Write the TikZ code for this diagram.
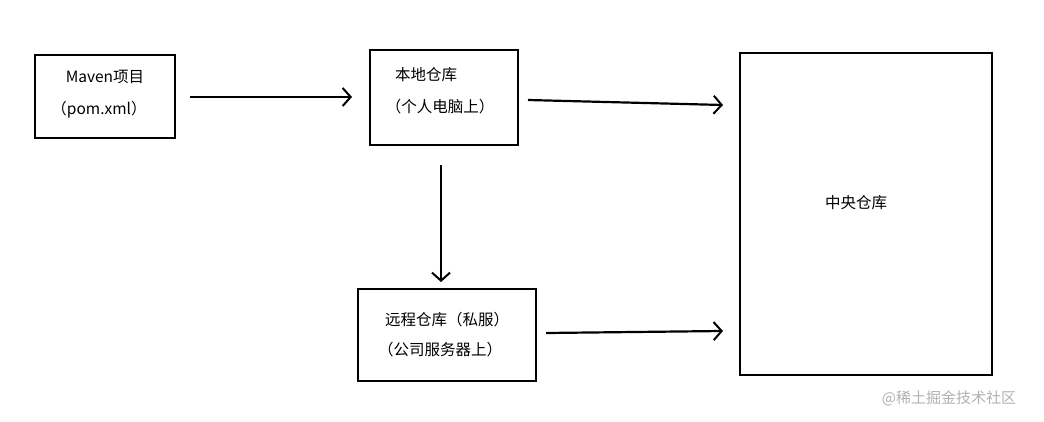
\documentclass[tikz,border=0pt]{standalone}
\usepackage{fontspec}
\setmainfont{Noto Sans CJK SC}
\usetikzlibrary{arrows.meta}
\begin{document}
\begin{tikzpicture}[x=1pt,y=-1pt,
  box/.style={draw,line width=2pt},
  txt/.style={font=\fontsize{15.5pt}{18pt}\selectfont,inner sep=0pt},
  arr/.style={line width=2.2pt,-{Straight Barb[length=8pt,width=18pt,line width=2pt]}}]
\useasboundingbox[fill=white] (0,0) rectangle (1044,422);
\node[box,minimum width=140pt,minimum height=83pt] (b1) at (105,96.5) {};
\node[box,minimum width=148pt,minimum height=95pt] (b2) at (444,97.5) {};
\node[box,minimum width=252pt,minimum height=322pt] (b3) at (866,214) {};
\node[box,minimum width=178pt,minimum height=92pt] (b4) at (447,335) {};
\node[txt] (t1a) at (105,77) {Maven项目};
\node[txt] (t1b) at (99,110) {（pom.xml）};
\node[txt] (t2a) at (426,75) {本地仓库};
\node[txt] (t2b) at (440,107) {（个人电脑上）};
\node[txt] (t3) at (856,203) {中央仓库};
\node[txt] (t4a) at (447,320) {远程仓库（私服）};
\node[txt] (t4b) at (440,350) {（公司服务器上）};
\node[txt,text=gray!60,font=\fontsize{15pt}{18pt}\selectfont] (wm) at (949,398) {@稀土掘金技术社区};
\coordinate (a1s) at (190,97); \coordinate (a1e) at (352,97);
\coordinate (a2s) at (528,100); \coordinate (a2e) at (723,105);
\coordinate (a3s) at (441,165); \coordinate (a3e) at (441,282);
\coordinate (a4s) at (546,333); \coordinate (a4e) at (723,331);
\draw[arr] (a1s) -- (a1e);
\draw[arr] (a2s) -- (a2e);
\draw[arr] (a3s) -- (a3e);
\draw[arr] (a4s) -- (a4e);
\end{tikzpicture}
\end{document}
